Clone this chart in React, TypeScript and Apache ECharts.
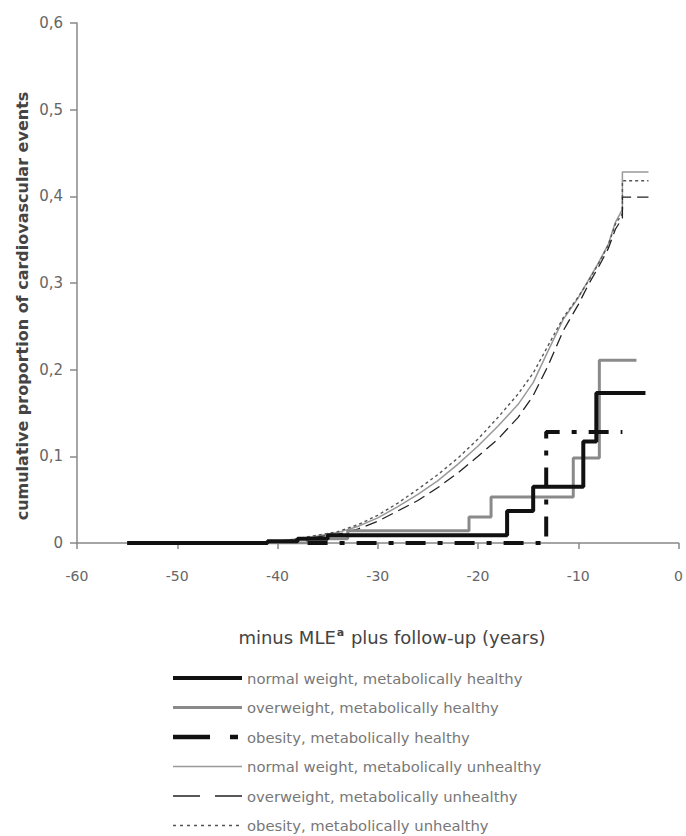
import React, { useEffect, useRef } from "react";
import * as echarts from "echarts";

// x-axis ticks and y-axis ticks
const xTicks = [-60, -50, -40, -30, -20, -10, 0];
const yTicks = [0, 0.1, 0.2, 0.3, 0.4, 0.5, 0.6];

const seriesNames = [
  "normal weight, metabolically healthy",
  "overweight, metabolically healthy",
  "obesity, metabolically healthy",
  "normal weight, metabolically unhealthy",
  "overweight, metabolically unhealthy",
  "obesity, metabolically unhealthy",
];

// normal weight, metabolically healthy (step)
const nwHealthyX = [-55, -41, -38, -35, -17.1, -14.5, -9.5, -8.2, -3.3];
const nwHealthyY = [0, 0.002, 0.005, 0.009, 0.037, 0.065, 0.117, 0.173, 0.173];

// overweight, metabolically healthy (step)
const owHealthyX = [-41, -37, -33, -20.9, -18.7, -10.5, -7.9, -4.2];
const owHealthyY = [0, 0.005, 0.014, 0.03, 0.053, 0.098, 0.211, 0.211];

// obesity, metabolically healthy (step)
const obHealthyX = [-37, -13.2, -5.6];
const obHealthyY = [0, 0.128, 0.128];

// normal weight, metabolically unhealthy
const nwUnhealthyX = [-41.5, -40, -38, -36, -34, -32, -30, -28, -26, -24, -22, -20, -18, -16, -14.5, -13, -11.5, -10, -9, -8, -7, -6.3, -5.6, -5.6, -3];
const nwUnhealthyY = [0, 0.002, 0.005, 0.008, 0.012, 0.019, 0.029, 0.042, 0.056, 0.072, 0.091, 0.112, 0.135, 0.16, 0.185, 0.222, 0.258, 0.283, 0.303, 0.323, 0.345, 0.37, 0.385, 0.428, 0.428];

// overweight, metabolically unhealthy
const owUnhealthyX = [-40, -38, -36, -34, -32, -30, -28, -26, -24, -22, -20, -18, -16, -14.5, -13, -11.5, -10, -9, -8, -7, -6.3, -5.6, -5.6, -3];
const owUnhealthyY = [0, 0.004, 0.007, 0.01, 0.016, 0.025, 0.037, 0.049, 0.064, 0.081, 0.1, 0.12, 0.145, 0.17, 0.205, 0.245, 0.275, 0.298, 0.318, 0.34, 0.362, 0.375, 0.399, 0.399];

// obesity, metabolically unhealthy
const obUnhealthyX = [-40, -38, -36, -34, -32, -30, -28, -26, -24, -22, -20, -18, -16, -14.5, -13, -11.5, -10, -9, -8, -7, -6.3, -5.6, -5.6, -3];
const obUnhealthyY = [0, 0.005, 0.009, 0.013, 0.021, 0.032, 0.046, 0.062, 0.079, 0.098, 0.12, 0.145, 0.172, 0.196, 0.228, 0.26, 0.284, 0.302, 0.322, 0.344, 0.368, 0.38, 0.418, 0.418];

const pairs = (xs: number[], ys: number[]) => xs.map((x, i) => [x, ys[i]]);

const styles = [
  { color: "#111", width: 4, type: "solid" as any, step: "end" },
  { color: "#8a8a8a", width: 3, type: "solid" as any, step: "end" },
  { color: "#111", width: 4, type: [20, 12, 5, 12] as any, step: "end" },
  { color: "#999", width: 1.5, type: "solid" as any, step: false },
  { color: "#222", width: 1.3, type: [12, 6] as any, step: false },
  { color: "#555", width: 1.4, type: [3, 3] as any, step: false },
];

const legendDash: any[] = ["solid", "solid", [37, 20, 8, 100], "solid", [27, 15], [3, 4]];

const FONT = "'DejaVu Sans', 'Liberation Sans', Arial, sans-serif";

export default function App() {
  const ref = useRef<HTMLDivElement>(null);
  useEffect(() => {
    if (!ref.current) return;
    const chart = echarts.init(ref.current, undefined, { renderer: "svg" });
    const datasets = [
      pairs(nwHealthyX, nwHealthyY),
      pairs(owHealthyX, owHealthyY),
      pairs(obHealthyX, obHealthyY),
      pairs(nwUnhealthyX, nwUnhealthyY),
      pairs(owUnhealthyX, owUnhealthyY),
      pairs(obUnhealthyX, obUnhealthyY),
    ];
    const order = [3, 5, 4, 1, 0, 2];
    const series = order.map((i) => ({
      name: seriesNames[i],
      type: "line",
      data: datasets[i],
      step: styles[i].step,
      showSymbol: false,
      symbol: "none",
      lineStyle: { color: styles[i].color, width: styles[i].width, type: styles[i].type },
      z: 2,
    }));

    const legendTop = 678;
    const legendGap = 29.5;
    const legendGraphics: any[] = [];
    seriesNames.forEach((name, i) => {
      const y = legendTop + i * legendGap;
      legendGraphics.push({
        type: "line",
        shape: { x1: 173, y1: y, x2: 242, y2: y },
        style: {
          stroke: styles[i].color,
          lineWidth: i === 2 ? 4.5 : styles[i].width,
          lineDash: legendDash[i] === "solid" ? null : legendDash[i],
        },
      });
      legendGraphics.push({
        type: "text",
        x: 247,
        y: y,
        style: {
          text: name,
          fill: "#777",
          font: "14.8px " + FONT,
          verticalAlign: "middle",
          align: "left",
        },
      });
    });

    chart.setOption({
      animation: false,
      backgroundColor: "#fff",
      grid: { left: 77, width: 609, top: 23, height: 520, containLabel: false },
      xAxis: {
        type: "value",
        min: -60,
        max: 0,
        interval: 10,
        axisLine: { show: true, onZero: false, lineStyle: { color: "#888", width: 1.5 } },
        axisTick: { show: true, length: 6, lineStyle: { color: "#888", width: 1.5 } },
        splitLine: { show: false },
        axisLabel: {
          margin: 26,
          color: "#666",
          fontSize: 14,
          fontFamily: FONT,
          formatter: (v: number) => (xTicks.includes(v) ? String(v) : ""),
        },
      },
      yAxis: {
        type: "value",
        min: 0,
        max: 0.6,
        interval: 0.1,
        axisLine: { show: true, onZero: false, lineStyle: { color: "#888", width: 1.5 } },
        axisTick: { show: true, length: 7, lineStyle: { color: "#888", width: 1.5 } },
        splitLine: { show: false },
        axisLabel: {
          margin: 14,
          color: "#666",
          fontSize: 15,
          fontFamily: FONT,
          formatter: (v: number) => {
            const t = yTicks.find((k) => Math.abs(k - v) < 1e-6);
            if (t === undefined) return "";
            return t === 0 ? "0" : t.toFixed(1).replace(".", ",");
          },
        },
      },
      graphic: [
        {
          type: "text",
          x: 22,
          y: 306,
          rotation: Math.PI / 2,
          style: {
            text: "cumulative proportion of cardiovascular events",
            fill: "#444",
            font: "bold 16px " + FONT,
            align: "center",
            verticalAlign: "middle",
          },
        },
        {
          type: "text",
          x: 392,
          y: 637,
          style: {
            text: "minus MLE{sup|a} plus follow-up (years)",
            rich: {
              sup: { fontSize: 11, verticalAlign: "bottom", fill: "#444", padding: [0, 1, 9, 1], fontFamily: FONT, fontWeight: "bold" },
            },
            fill: "#444",
            font: "18px " + FONT,
            align: "center",
            verticalAlign: "middle",
          },
        },
        ...legendGraphics,
      ],
      series,
    });
    return () => chart.dispose();
  }, []);
  return (
    <div
      ref={ref}
      style={{ position: "fixed", left: 0, top: 0, width: 686, height: 836, background: "#fff" }}
    />
  );
}
